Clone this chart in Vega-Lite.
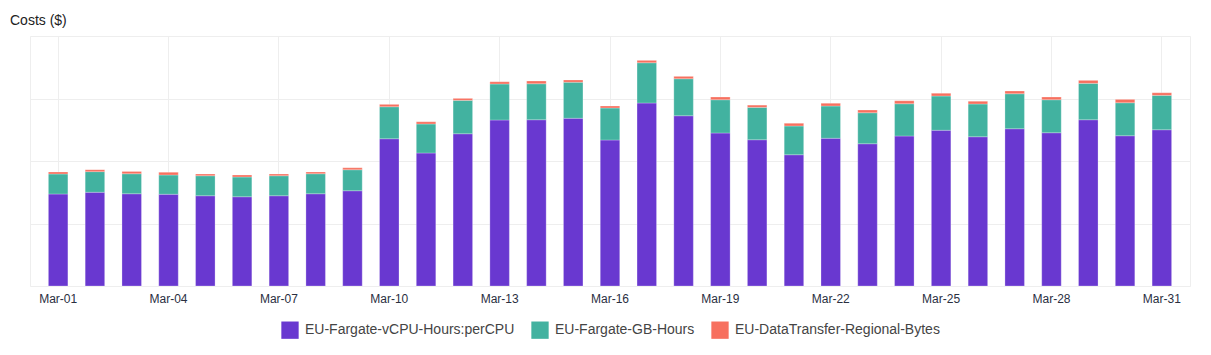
{
  "$schema": "https://vega.github.io/schema/vega-lite/v6.json",
  "width": 1160,
  "height": 250,
  "autosize": "none",
  "padding": {"left": 30, "top": 36, "right": 21, "bottom": 69},
  "background": "white",
  "title": {"text": "Costs ($)", "anchor": "start", "frame": "group", "dx": -20, "dy": 17, "offset": 14, "baseline": "alphabetic", "fontSize": 14, "fontWeight": "normal", "font": "Liberation Sans", "color": "#222222"},
  "data": {"values": [
    {"d": "Mar-01", "EU-Fargate-vCPU-Hours:perCPU": 73.6, "EU-Fargate-GB-Hours": 16.0, "EU-DataTransfer-Regional-Bytes": 1.6},
    {"d": "Mar-02", "EU-Fargate-vCPU-Hours:perCPU": 75.0, "EU-Fargate-GB-Hours": 16.5, "EU-DataTransfer-Regional-Bytes": 1.6},
    {"d": "Mar-03", "EU-Fargate-vCPU-Hours:perCPU": 73.8, "EU-Fargate-GB-Hours": 16.0, "EU-DataTransfer-Regional-Bytes": 1.9},
    {"d": "Mar-04", "EU-Fargate-vCPU-Hours:perCPU": 73.4, "EU-Fargate-GB-Hours": 15.4, "EU-DataTransfer-Regional-Bytes": 2.2},
    {"d": "Mar-05", "EU-Fargate-vCPU-Hours:perCPU": 72.2, "EU-Fargate-GB-Hours": 16.0, "EU-DataTransfer-Regional-Bytes": 1.4},
    {"d": "Mar-06", "EU-Fargate-vCPU-Hours:perCPU": 71.4, "EU-Fargate-GB-Hours": 15.8, "EU-DataTransfer-Regional-Bytes": 1.6},
    {"d": "Mar-07", "EU-Fargate-vCPU-Hours:perCPU": 72.2, "EU-Fargate-GB-Hours": 16.0, "EU-DataTransfer-Regional-Bytes": 1.4},
    {"d": "Mar-08", "EU-Fargate-vCPU-Hours:perCPU": 73.8, "EU-Fargate-GB-Hours": 16.0, "EU-DataTransfer-Regional-Bytes": 1.4},
    {"d": "Mar-09", "EU-Fargate-vCPU-Hours:perCPU": 76.2, "EU-Fargate-GB-Hours": 16.8, "EU-DataTransfer-Regional-Bytes": 1.6},
    {"d": "Mar-10", "EU-Fargate-vCPU-Hours:perCPU": 117.8, "EU-Fargate-GB-Hours": 25.6, "EU-DataTransfer-Regional-Bytes": 1.9},
    {"d": "Mar-11", "EU-Fargate-vCPU-Hours:perCPU": 106.4, "EU-Fargate-GB-Hours": 23.2, "EU-DataTransfer-Regional-Bytes": 1.8},
    {"d": "Mar-12", "EU-Fargate-vCPU-Hours:perCPU": 121.8, "EU-Fargate-GB-Hours": 26.7, "EU-DataTransfer-Regional-Bytes": 1.6},
    {"d": "Mar-13", "EU-Fargate-vCPU-Hours:perCPU": 132.8, "EU-Fargate-GB-Hours": 28.8, "EU-DataTransfer-Regional-Bytes": 1.8},
    {"d": "Mar-14", "EU-Fargate-vCPU-Hours:perCPU": 133.0, "EU-Fargate-GB-Hours": 28.8, "EU-DataTransfer-Regional-Bytes": 2.2},
    {"d": "Mar-15", "EU-Fargate-vCPU-Hours:perCPU": 134.2, "EU-Fargate-GB-Hours": 28.8, "EU-DataTransfer-Regional-Bytes": 1.8},
    {"d": "Mar-16", "EU-Fargate-vCPU-Hours:perCPU": 116.8, "EU-Fargate-GB-Hours": 25.6, "EU-DataTransfer-Regional-Bytes": 1.6},
    {"d": "Mar-17", "EU-Fargate-vCPU-Hours:perCPU": 146.4, "EU-Fargate-GB-Hours": 32.2, "EU-DataTransfer-Regional-Bytes": 1.9},
    {"d": "Mar-18", "EU-Fargate-vCPU-Hours:perCPU": 136.2, "EU-Fargate-GB-Hours": 29.6, "EU-DataTransfer-Regional-Bytes": 1.9},
    {"d": "Mar-19", "EU-Fargate-vCPU-Hours:perCPU": 122.4, "EU-Fargate-GB-Hours": 26.6, "EU-DataTransfer-Regional-Bytes": 2.2},
    {"d": "Mar-20", "EU-Fargate-vCPU-Hours:perCPU": 117.0, "EU-Fargate-GB-Hours": 25.9, "EU-DataTransfer-Regional-Bytes": 1.8},
    {"d": "Mar-21", "EU-Fargate-vCPU-Hours:perCPU": 105.0, "EU-Fargate-GB-Hours": 23.0, "EU-DataTransfer-Regional-Bytes": 2.2},
    {"d": "Mar-22", "EU-Fargate-vCPU-Hours:perCPU": 118.2, "EU-Fargate-GB-Hours": 25.8, "EU-DataTransfer-Regional-Bytes": 2.2},
    {"d": "Mar-23", "EU-Fargate-vCPU-Hours:perCPU": 113.8, "EU-Fargate-GB-Hours": 24.8, "EU-DataTransfer-Regional-Bytes": 2.2},
    {"d": "Mar-24", "EU-Fargate-vCPU-Hours:perCPU": 120.0, "EU-Fargate-GB-Hours": 25.8, "EU-DataTransfer-Regional-Bytes": 2.4},
    {"d": "Mar-25", "EU-Fargate-vCPU-Hours:perCPU": 124.6, "EU-Fargate-GB-Hours": 27.4, "EU-DataTransfer-Regional-Bytes": 2.2},
    {"d": "Mar-26", "EU-Fargate-vCPU-Hours:perCPU": 119.4, "EU-Fargate-GB-Hours": 26.2, "EU-DataTransfer-Regional-Bytes": 2.2},
    {"d": "Mar-27", "EU-Fargate-vCPU-Hours:perCPU": 125.8, "EU-Fargate-GB-Hours": 28.0, "EU-DataTransfer-Regional-Bytes": 2.2},
    {"d": "Mar-28", "EU-Fargate-vCPU-Hours:perCPU": 122.6, "EU-Fargate-GB-Hours": 26.4, "EU-DataTransfer-Regional-Bytes": 2.2},
    {"d": "Mar-29", "EU-Fargate-vCPU-Hours:perCPU": 133.0, "EU-Fargate-GB-Hours": 29.1, "EU-DataTransfer-Regional-Bytes": 2.4},
    {"d": "Mar-30", "EU-Fargate-vCPU-Hours:perCPU": 120.2, "EU-Fargate-GB-Hours": 26.4, "EU-DataTransfer-Regional-Bytes": 2.7},
    {"d": "Mar-31", "EU-Fargate-vCPU-Hours:perCPU": 125.0, "EU-Fargate-GB-Hours": 27.5, "EU-DataTransfer-Regional-Bytes": 2.1}
  ]},
  "transform": [
    {"fold": ["EU-Fargate-vCPU-Hours:perCPU", "EU-Fargate-GB-Hours", "EU-DataTransfer-Regional-Bytes"], "as": ["series", "cost"]}
  ],
  "mark": {"type": "bar", "stroke": "white", "strokeWidth": 0.5, "strokeOpacity": 0.5},
  "encoding": {
    "x": {
      "field": "d", "type": "nominal", "sort": null,
      "scale": {"paddingInner": 0.47, "paddingOuter": 0.5},
      "axis": {
        "title": null, "labelAngle": 0, "ticks": false, "tickSize": 0, "domain": false,
        "values": ["Mar-01", "Mar-04", "Mar-07", "Mar-10", "Mar-13", "Mar-16", "Mar-19", "Mar-22", "Mar-25", "Mar-28", "Mar-31"],
        "grid": true, "bandPosition": 0.5, "gridColor": "#eeeeee", "gridWidth": 1,
        "labelPadding": 7, "labelFontSize": 12, "labelFont": "Liberation Sans", "labelColor": "#2a2f3f"
      }
    },
    "y": {
      "field": "cost", "type": "quantitative", "stack": "zero",
      "scale": {"domain": [0, 200], "nice": false},
      "axis": {"title": null, "labels": false, "ticks": false, "domain": false, "grid": true, "values": [0, 50, 100, 150, 200], "gridColor": "#eeeeee"}
    },
    "color": {
      "field": "series", "type": "nominal",
      "scale": {"domain": ["EU-Fargate-vCPU-Hours:perCPU", "EU-Fargate-GB-Hours", "EU-DataTransfer-Regional-Bytes"], "range": ["#6938D0", "#42B2A0", "#F7705F"]},
      "legend": {
        "title": null, "orient": "bottom", "direction": "horizontal", "symbolType": "square", "symbolSize": 300,
        "symbolStrokeWidth": 0, "labelFontSize": 14, "labelFont": "Liberation Sans", "labelColor": "#444444",
        "labelLimit": 400, "columnPadding": 16, "labelOffset": 6, "offset": 17
      }
    },
    "order": {"field": "series", "sort": "descending"}
  },
  "config": {
    "view": {"stroke": "#eeeeee"},
    "legend": {"layout": {"bottom": {"anchor": "middle"}}}
  }
}
